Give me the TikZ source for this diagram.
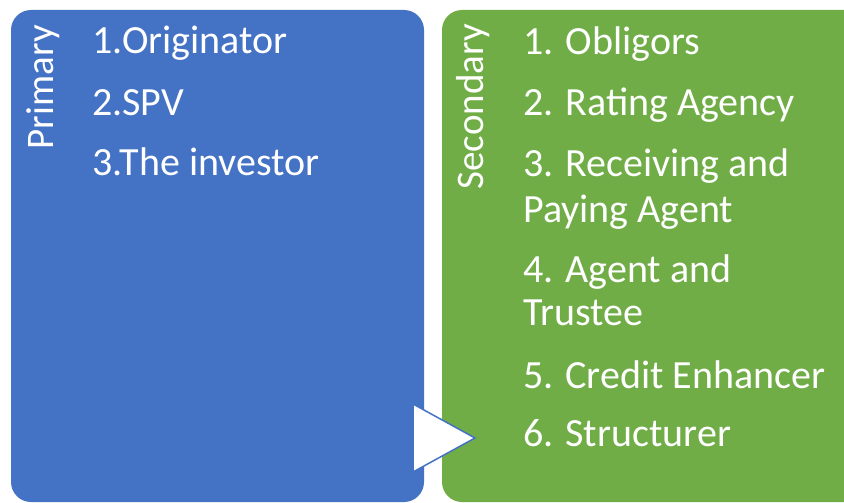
\documentclass[tikz,border=0pt]{standalone}
\usepackage{fontspec}
\setmainfont{Carlito}
\definecolor{blueC}{HTML}{4472C4}
\definecolor{greenC}{HTML}{70AD47}
\begin{document}
\begin{tikzpicture}[x=1pt,y=-1pt,
  item/.style={anchor=base west,inner sep=0pt,text=white,font=\fontsize{40}{45}\selectfont},
  side/.style={anchor=base east,inner sep=0pt,text=white,rotate=90,font=\fontsize{39}{45}\selectfont}]
\useasboundingbox (0,0) rectangle (844,503);
\clip (0,0) rectangle (844,503);
\fill[blueC, rounded corners=20pt] (11,10) rectangle (424,502);
\fill[greenC, rounded corners=20pt] (442,10) rectangle (866,502);
\node[side] (prim) at (53,25) {Primary};
\node[side] (sec) at (483,24) {Secondary};
\node[item] (p1) at (92,54) {1.Originator};
\node[item] (p2) at (92,116) {2.SPV};
\node[item] (p3) at (92,175) {3.The investor};
\node[item] (s1) at (523,55) {1. Obligors};
\node[item] (s2) at (523,116) {2. Rating Agency};
\node[item] (s3) at (523,176) {3. Receiving and};
\node[item] (s3b) at (523,222) {Paying Agent};
\node[item] (s4) at (523,282) {4. Agent and};
\node[item] (s4b) at (523,325) {Trustee};
\node[item] (s5) at (523,388) {5. Credit Enhancer};
\node[item] (s6) at (523,446) {6. Structurer};
\draw[blueC, fill=white, line width=1.5pt, line join=miter] (413,404) -- (475,438) -- (413,472) -- cycle;
\end{tikzpicture}
\end{document}
